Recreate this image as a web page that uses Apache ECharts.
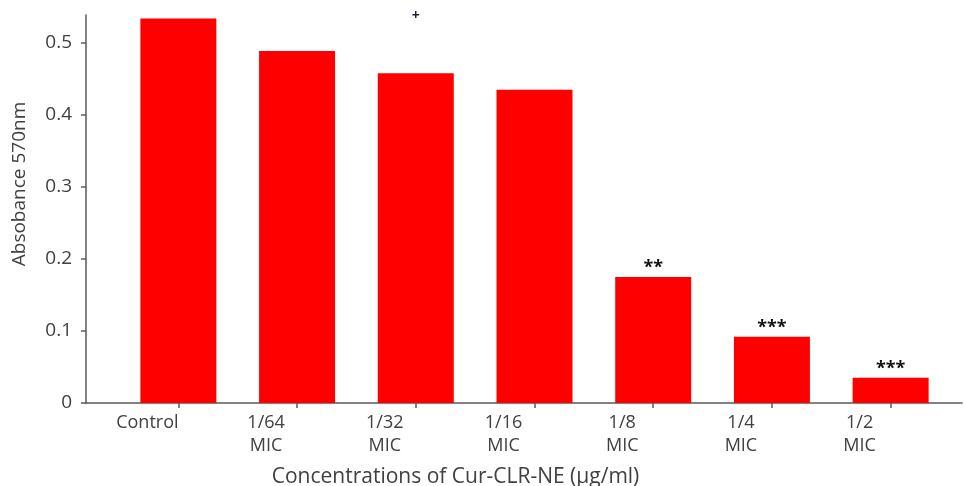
<!DOCTYPE html>
<html>
<head>
<meta charset="utf-8">
<script src="https://cdn.jsdelivr.net/npm/echarts@6/dist/echarts.min.js"></script>
<style>html,body{margin:0;padding:0;background:#fff}#c{width:964px;height:486px}</style>
</head>
<body>
<div id="c"></div>
<script>
const categories = ["Control", "1/64\nMIC", "1/32\nMIC", "1/16\nMIC", "1/8\nMIC", "1/4\nMIC", "1/2\nMIC"];
const absorbance = [0.534, 0.489, 0.458, 0.435, 0.175, 0.092, 0.035];
const significance = ["", "", "+", "", "**", "***", "***"];
const yTicks = [0, 0.1, 0.2, 0.3, 0.4, 0.5];
const yMax = 0.539;

const txt = '#404040';
const axisCol = '#5a5a5a';
const font = 'Open Sans';

const chart = echarts.init(document.getElementById('c'));
chart.setOption({
  animation: false,
  textStyle: { fontFamily: font },
  grid: [
    { left: 119, right: 14, top: 15, bottom: 83, containLabel: false, outerBoundsMode: 'none' },
    { left: 86, right: 2, top: 15, bottom: 83, containLabel: false, outerBoundsMode: 'none' }
  ],
  xAxis: [
    {
      type: 'category', gridIndex: 0, data: categories,
      axisLine: { show: false },
      axisTick: { show: true, alignWithLabel: true, length: 5, lineStyle: { color: axisCol, width: 1.5 } },
      axisLabel: { color: txt, fontSize: 18, fontFamily: font, lineHeight: 23, margin: 8, padding: [0, 62, 0, 0], interval: 0 },
      name: 'Concentrations of Cur-CLR-NE (μg/ml)', nameLocation: 'middle', nameGap: 64,
      nameTextStyle: { color: txt, fontSize: 21, fontFamily: font, padding: [0, 158, 0, 0] }
    },
    {
      type: 'value', gridIndex: 1, min: 0, max: 1,
      axisLine: { show: true, lineStyle: { color: axisCol, width: 1.5 } },
      axisTick: { show: false }, axisLabel: { show: false }, splitLine: { show: false }
    }
  ],
  yAxis: [
    {
      type: 'value', gridIndex: 0, min: 0, max: yMax, interval: 0.1, offset: 33,
      axisLine: { show: true, lineStyle: { color: axisCol, width: 1.5 } },
      axisTick: { show: true, length: 5, customValues: yTicks, lineStyle: { color: axisCol, width: 1.5 } },
      axisLabel: { color: txt, fontSize: 19, fontFamily: font, margin: 14, customValues: yTicks,
        formatter: v => v === 0 ? '0' : v.toFixed(1) },
      splitLine: { show: false },
      name: 'Absobance 570nm', nameLocation: 'middle', nameGap: 57, nameRotate: 90,
      nameTextStyle: { color: txt, fontSize: 19, fontFamily: font, padding: [0, 0, 0, 50] }
    },
    { type: 'value', gridIndex: 1, show: false, min: 0, max: 1 }
  ],
  series: [{
    type: 'bar', xAxisIndex: 0, yAxisIndex: 0, barWidth: 76,
    itemStyle: { color: '#ff0000' },
    data: absorbance.map((v, i) => ({
      value: v,
      label: {
        show: significance[i] !== '',
        position: 'top',
        distance: significance[i] === '+' ? 50 : 0,
        formatter: () => significance[i],
        color: significance[i] === '+' ? '#2a1a3a' : '#111',
        fontSize: significance[i] === '+' ? 14 : 18,
        fontWeight: 'bold',
        fontFamily: font
      }
    }))
  }]
});
</script>
</body>
</html>
